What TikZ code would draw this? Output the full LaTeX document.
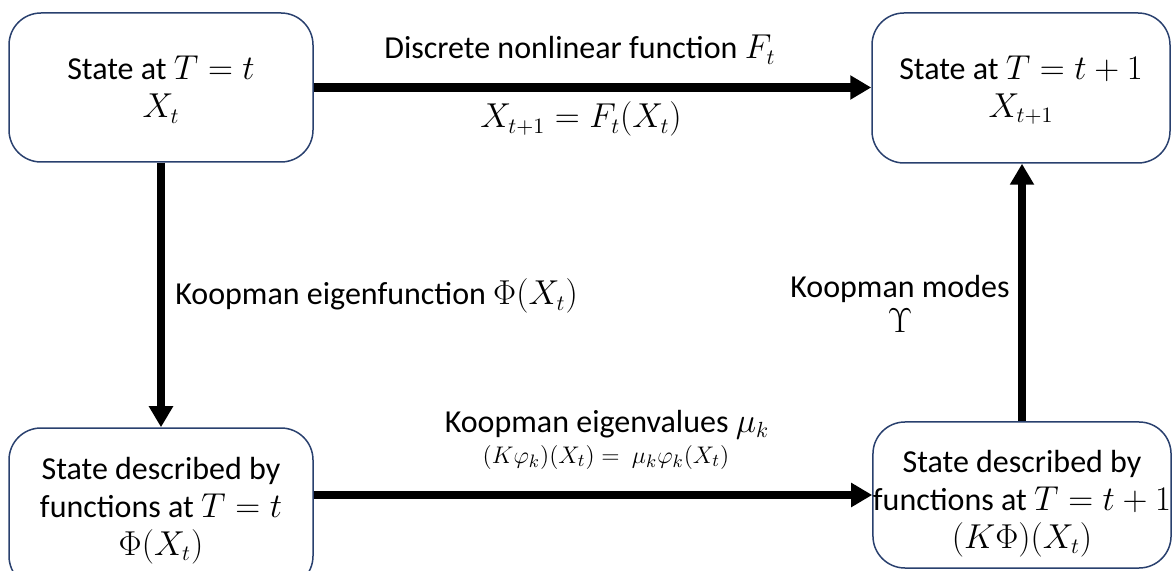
\documentclass[tikz,border=0pt]{standalone}
\usepackage{fontspec}
\setmainfont{Carlito}
\usetikzlibrary{arrows.meta}
\definecolor{boxblue}{RGB}{41,64,110}
% invisible strut that sets the height of a box's first line
\newcommand{\firstline}[1]{\rule{0pt}{#1}}
\begin{document}
\begin{tikzpicture}[x=0.5pt,y=-0.5pt,
  mainfont/.style={font=\fontsize{16}{19}\selectfont},
  box/.style={draw=boxblue, line width=0.75pt, rounded corners=16pt,
    fill=white, align=center, inner sep=0pt, mainfont},
  flow/.style={line width=4.2pt, -{Triangle[length=10.5pt,width=11.5pt]}},
  lbl/.style={inner sep=0pt, mainfont}]
\useasboundingbox (0,0) rectangle (1172,571);

% state boxes
\node[box, minimum width=152pt, minimum height=74.5pt] (A) at (161,87.5)
  {\firstline{14pt}State at $T=t$\\$X_t$};
\node[box, minimum width=149pt, minimum height=75pt] (B) at (1021,88)
  {\firstline{14pt}State at $T=t+1$\\$X_{t+1}$};
\node[box, minimum width=152pt, minimum height=80pt] (C) at (161,508)
  {\firstline{14pt}State described by\\functions at $T=t$\\$\Phi(X_t)$};
\node[box, minimum width=148pt, minimum height=73pt] (D) at (1022,495)
  {\firstline{20pt}State described by\\functions at $T=t+1$\\$(K\Phi)(X_t)$};

% transitions
\draw[flow] (A.east) -- (A.east -| B.west);
\draw[flow] (A.south) -- (A.south |- C.north);
\draw[flow] (C.east |- D.west) -- (D.west);
\draw[flow] (D.north) -- (D.north |- B.south);

% labels
\node[lbl, anchor=base] (ftop) at (580,59) {Discrete nonlinear function $F_t$};
\node[lbl, anchor=base] (feq) at (581,128) {$X_{t+1} = F_t(X_t)$};
\node[lbl, anchor=base west] (phi) at (175,305) {Koopman eigenfunction $\Phi(X_t)$};
\node[lbl, align=center, font=\fontsize{16}{17.5}\selectfont] (modes) at (900,304)
  {Koopman modes\\$\Upsilon$};
\node[lbl, anchor=base] (eigv) at (607,432) {Koopman eigenvalues $\mu_k$};
\node[inner sep=0pt, anchor=base, font=\fontsize{12.4}{14}\selectfont] (eigeq) at (606,463)
  {$(K\varphi_k)(X_t) =\ \mu_k\varphi_k(X_t)$};
\end{tikzpicture}
\end{document}
